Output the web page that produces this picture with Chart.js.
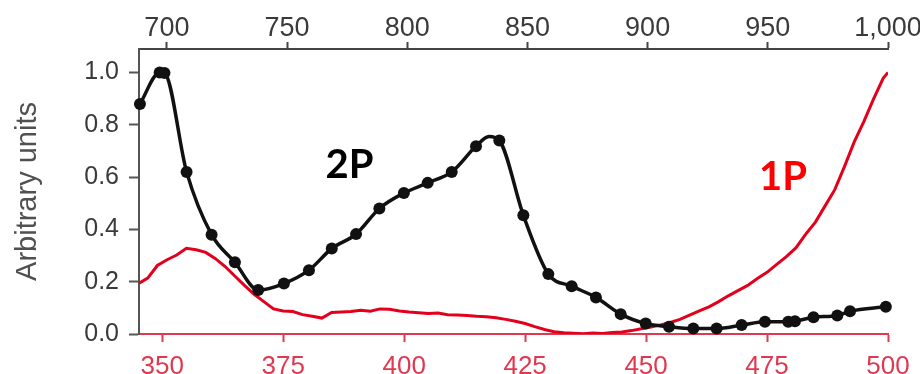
<!DOCTYPE html>
<html>
<head>
<meta charset="utf-8">
<title>1P / 2P spectra</title>
<script src="https://cdn.jsdelivr.net/npm/chart.js@4.4.1/dist/chart.umd.min.js"></script>
<style>
  html, body { margin: 0; padding: 0; background: #fff; }
</style>
</head>
<body>
<canvas id="myChart1" width="920" height="374"></canvas>
<script>
/* globals Chart:false */

// 2P excitation: wavelength (nm, top axis) and value
const twoPNm = [688.8, 697, 699, 708.2, 718.6, 728.3, 738, 748.7, 759.1, 768.6, 778.7, 788.4, 798.6, 808.5, 818.5, 828.6, 834, 838.3,
    848.3, 858.7, 868.4, 878.5, 888.8, 899.2, 908.9, 919, 928.7, 939.1, 948.8, 958.5, 961.3, 969, 978.9, 984.2, 999.1]
const twoPVal = [0.88, 1.0, 0.998, 0.62, 0.38, 0.274, 0.168, 0.193, 0.244, 0.327, 0.382, 0.48, 0.539, 0.578, 0.62, 0.718, 0.755, 0.74,
    0.454, 0.229, 0.183, 0.14, 0.076, 0.04, 0.028, 0.021, 0.021, 0.034, 0.047, 0.047, 0.049, 0.064, 0.071, 0.087, 0.104]
// 834 nm is only a bend of the curve, no marker there
const twoPMarker = twoPNm.map(v => v !== 834)

// 1P excitation: wavelength (nm, bottom axis) and value
const onePNm = [345, 347, 349, 351, 353, 355, 357, 359, 361, 363, 365, 367, 369, 371, 373, 375, 377, 379, 381, 383,
    385, 387, 389, 391, 393, 395, 397, 399, 401, 403, 405, 407, 409, 411, 413, 415, 417, 419, 421, 423,
    425, 427, 429, 431, 433, 435, 437, 439, 441, 443, 445, 447, 449, 451, 453, 455, 457, 459, 461, 463,
    465, 467, 469, 471, 473, 475, 477, 479, 481, 483, 485, 487, 489, 491, 493, 495, 497, 499, 500]
const onePVal = [0.192, 0.214, 0.262, 0.284, 0.302, 0.328, 0.322, 0.312, 0.288, 0.258, 0.222, 0.186, 0.152, 0.124, 0.096, 0.088, 0.086, 0.074, 0.068, 0.061,
    0.082, 0.084, 0.086, 0.091, 0.087, 0.096, 0.095, 0.088, 0.084, 0.081, 0.078, 0.080, 0.074, 0.073, 0.071, 0.068, 0.066, 0.062, 0.056, 0.049,
    0.040, 0.028, 0.017, 0.009, 0.005, 0.003, 0.001, 0.004, 0.002, 0.006, 0.008, 0.013, 0.020, 0.027, 0.035, 0.044, 0.056, 0.072, 0.088, 0.104,
    0.124, 0.146, 0.166, 0.186, 0.212, 0.236, 0.266, 0.296, 0.330, 0.382, 0.428, 0.490, 0.552, 0.640, 0.734, 0.812, 0.898, 0.978, 1.0]

// tick labels
const bottomTicks = [350, 375, 400, 425, 450, 475, 500]
const topTicks = [700, 750, 800, 850, 900, 950, 1000]
const topTickLabels = ['700', '750', '800', '850', '900', '950', '1,000']
const yTicks = [0, 0.2, 0.4, 0.6, 0.8, 1.0]

;(() => {
    'use strict'

    const ctx = document.getElementById('myChart1')
    const family = "'Liberation Sans', Arial, sans-serif"
    const axisRed = '#e0384f'

    // the "2P" / "1P" series names written inside the plot
    const seriesLabels = {
        id: 'seriesLabels',
        afterDatasetsDraw(chart) {
            const c = chart.ctx
            const s = chart.scales
            c.save()
            c.font = "bold 40px Lato, 'Open Sans', sans-serif"
            c.textAlign = 'center'
            c.textBaseline = 'middle'
            c.fillStyle = '#000'
            c.fillText('2P', s.x2.getPixelForValue(776), s.y.getPixelForValue(0.645))
            c.fillStyle = '#ff0000'
            c.fillText('1P', s.x.getPixelForValue(478.3), s.y.getPixelForValue(0.6))
            c.restore()
        }
    }

    const myChart = new Chart(ctx, {
        type: 'line',
        data: {
            datasets: [{
                label: '2P',
                xAxisID: 'x2',
                yAxisID: 'y',
                data: twoPNm.map((v, i) => ({ x: v, y: twoPVal[i] })),
                borderColor: '#111',
                borderWidth: 3.5,
                cubicInterpolationMode: 'monotone',
                pointRadius: twoPMarker.map(m => m ? 6 : 0),
                pointBackgroundColor: '#111',
                pointBorderWidth: 0,
                clip: false,
                order: 0
            }, {
                label: '1P',
                xAxisID: 'x',
                yAxisID: 'y',
                data: onePNm.map((v, i) => ({ x: v, y: onePVal[i] })),
                borderColor: '#e2001c',
                borderWidth: 3,
                tension: 0,
                pointRadius: 0,
                order: 1
            }]
        },
        options: {
            responsive: false,
            animation: false,
            layout: { padding: { left: 0, right: 32, top: 0, bottom: 0 } },
            plugins: {
                legend: { display: false },
                tooltip: { enabled: false }
            },
            scales: {
                x: {
                    type: 'linear',
                    position: 'bottom',
                    min: 345.2,
                    max: 500,
                    afterBuildTicks: s => { s.ticks = bottomTicks.map(v => ({ value: v })) },
                    afterFit: s => { s.height = 40; s.paddingLeft = 0; s.paddingRight = 0 },
                    border: { color: axisRed, width: 2 },
                    grid: { drawOnChartArea: false, tickLength: 8, tickColor: axisRed, tickWidth: 2 },
                    ticks: { color: axisRed, font: { size: 26, family }, padding: 9, maxRotation: 0, autoSkip: false }
                },
                x2: {
                    type: 'linear',
                    position: 'top',
                    min: 688.4,
                    max: 1000,
                    afterBuildTicks: s => { s.ticks = topTicks.map(v => ({ value: v })) },
                    afterFit: s => { s.height = 49; s.paddingLeft = 0; s.paddingRight = 0 },
                    border: { color: '#444', width: 2 },
                    grid: { drawOnChartArea: false, tickLength: 7, tickColor: '#444', tickWidth: 2 },
                    ticks: {
                        color: '#3a3a3a',
                        font: { size: 27, family },
                        padding: -3,
                        maxRotation: 0,
                        autoSkip: false,
                        callback: (v, i) => topTickLabels[i]
                    }
                },
                y: {
                    min: 0,
                    max: 1.09,
                    afterBuildTicks: s => { s.ticks = yTicks.map(v => ({ value: v })) },
                    afterFit: s => { s.width = 139; s.paddingTop = 0; s.paddingBottom = 0 },
                    border: { color: '#555', width: 2 },
                    grid: { drawOnChartArea: false, tickLength: 10, tickColor: '#555', tickWidth: 2 },
                    ticks: {
                        color: '#3a3a3a',
                        font: { size: 25, family },
                        padding: 10,
                        callback: v => v.toFixed(1)
                    },
                    title: {
                        display: true,
                        text: 'Arbitrary units',
                        color: '#505050',
                        font: { size: 29, family },
                        padding: { top: 11, bottom: 0 }
                    }
                }
            }
        },
        plugins: [seriesLabels]
    })
})()
</script>
</body>
</html>
